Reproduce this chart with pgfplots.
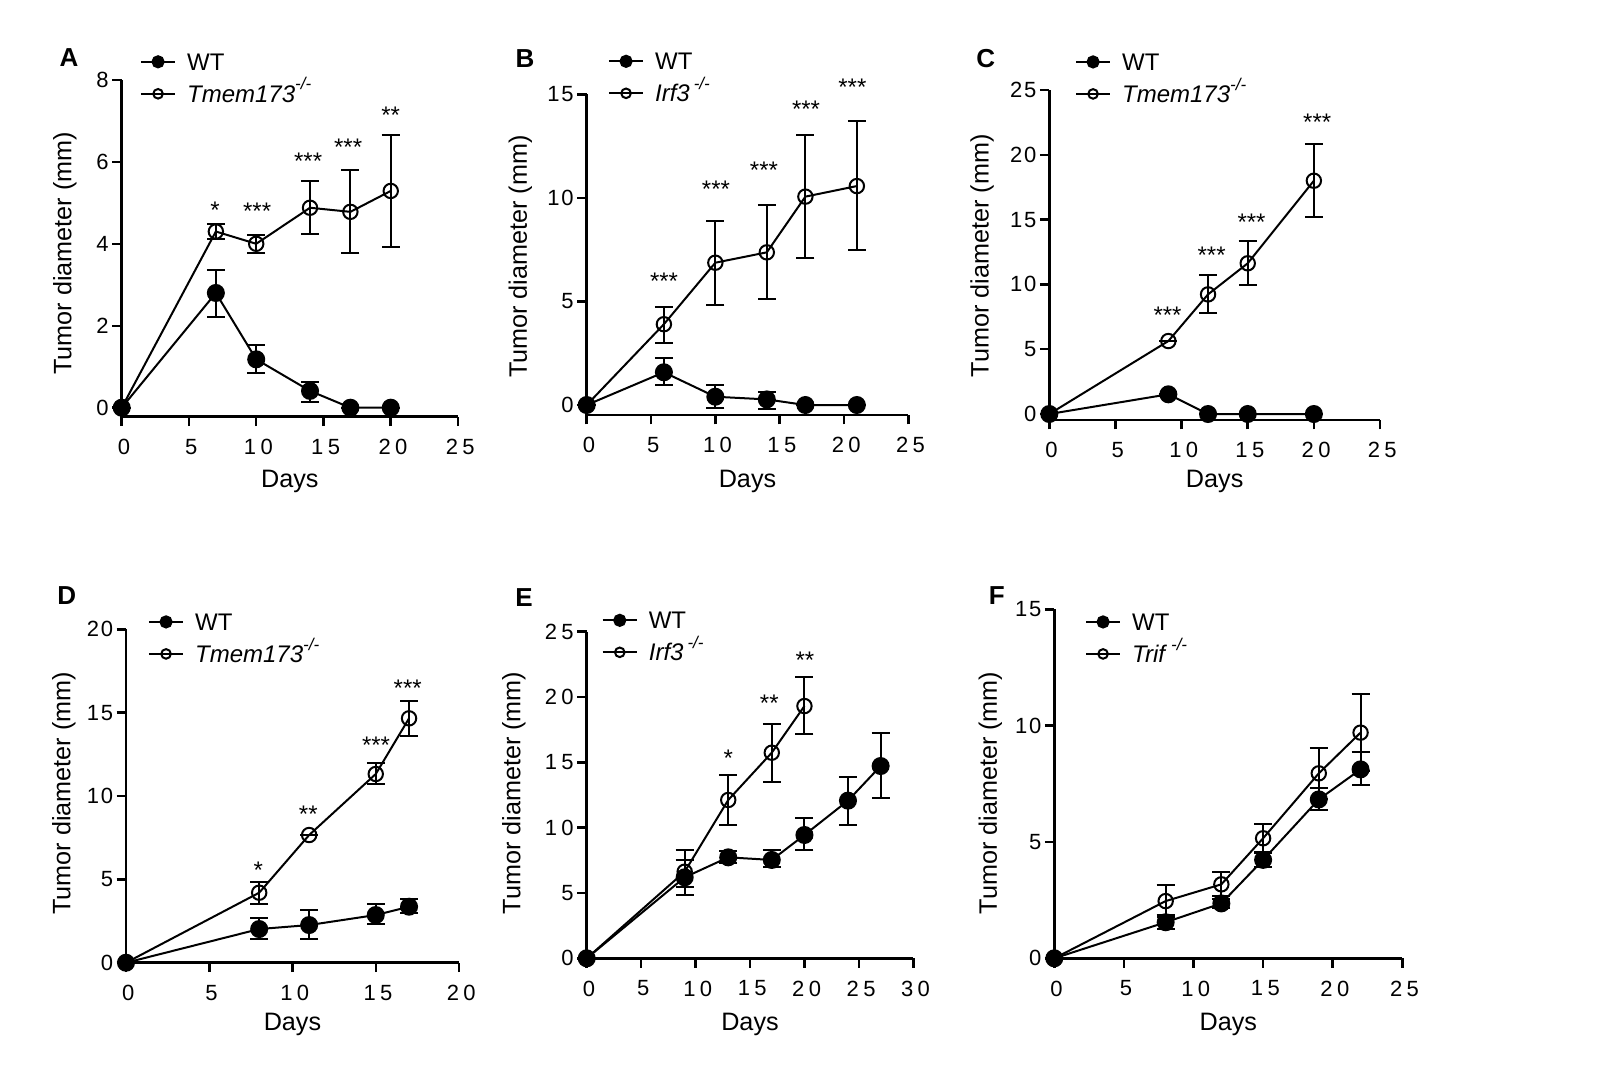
\documentclass[border=0pt]{standalone}
\usepackage{fontspec}
\setmainfont{Liberation Sans}
\newfontfamily\xtf[LetterSpace=20]{Liberation Sans}
\newfontfamily\ytf[LetterSpace=8]{Liberation Sans}
\usepackage{pgfplots}
\pgfplotsset{compat=1.18}
\newcommand{\ko}{\raisebox{0.52em}{\fontsize{8.5}{8.5}\selectfont\itshape -/-}}
\pgfplotsset{
  panel/.style={
    scale only axis, clip=false,
    axis x line=bottom, axis y line=left,
    axis line style={line width=1.25pt,-},
    tick align=outside, major tick length=4.7pt,
    every tick/.style={line width=1.25pt,black},
    /pgf/number format/assume math mode=true,
    xticklabel style={font=\fontsize{11}{13}\selectfont\xtf, inner sep=0pt, xshift=1.1pt},
    yticklabel style={font=\fontsize{11}{13}\selectfont\ytf, inner sep=0pt},
    xticklabel shift=6.3pt, yticklabel shift=1.6pt,
    xlabel={Days}, ylabel={Tumor diameter (mm)},
    label style={font=\fontsize{12.6}{14}\selectfont, inner sep=0pt},
    xmin=0,
    reverse legend, legend cell align=left,
    legend style={anchor=north west, draw=none, fill=none, inner sep=0pt, outer sep=0pt,
      row sep=7.4pt, column sep=5.5pt, font=\fontsize{12}{14}\selectfont,
      nodes={inner sep=0pt, text height=8.6pt, text depth=0pt}},
  },
  wt/.style={black, line width=1pt, mark=*, mark size=4pt, mark options={solid, fill=black},
    legend image post style={mark size=2.8pt},
    error bars/.cd, y dir=both, y explicit,
    error bar style={line width=1pt, black},
    error mark options={rotate=90, mark size=4.5pt, line width=1pt, black}},
  ko/.style={black, line width=1pt, mark=o, mark size=3.6pt, mark options={solid, fill=white},
    legend image post style={mark size=2.4pt},
    error bars/.cd, y dir=both, y explicit,
    error bar style={line width=1pt, black},
    error mark options={rotate=90, mark size=4.5pt, line width=1pt, black}},
}
\tikzset{star/.style={font=\fontsize{12}{12}\selectfont, inner sep=0pt, yshift=-2.6pt},
  plet/.style={font=\bfseries\fontsize{13}{13}\selectfont, inner sep=0pt}}
\begin{document}
\begin{tikzpicture}
\path (0pt,0pt) rectangle (800pt,-536.5pt);
% ---------- A ----------
\begin{axis}[panel, at={(60.85pt,-208.35pt)}, anchor=south west, width=168.15pt, height=168.4pt,
  xmax=25, ymin=-0.22, ymax=8, xtick={0,5,...,25}, ytick={0,2,...,8},
  xlabel style={at={(axis description cs:0.5,-0.1583)}, anchor=north},
  ylabel style={at={(axis description cs:-0.2052,0.4852)}, anchor=north},
  legend style={at={(0.0544,1.0793)}}]
\addplot[ko] coordinates {(0,0) +=(0,0) -=(0,0) (7,4.30) +=(0,0.19) -=(0,0.19) (10,4.0) +=(0,0.21) -=(0,0.23) (14,4.88) +=(0,0.65) -=(0,0.65) (17,4.78) +=(0,1.02) -=(0,1.01) (20,5.29) +=(0,1.37) -=(0,1.36)};
\addlegendentry{\textit{Tmem173}\ko}
\addplot[wt] coordinates {(0,0) +=(0,0) -=(0,0) (7,2.80) +=(0,0.55) -=(0,0.58) (10,1.18) +=(0,0.34) -=(0,0.33) (14,0.41) +=(0,0.22) -=(0,0.26) (17,0) +=(0,0) -=(0,0) (20,0) +=(0,0) -=(0,0)};
\addlegendentry{WT}
\node[star] at (axis cs:6.93,4.95) {*};
\node[star] at (axis cs:10.07,4.93) {***};
\node[star] at (axis cs:13.86,6.13) {***};
\node[star] at (axis cs:16.83,6.48) {***};
\node[star] at (axis cs:20,7.27) {**};
\end{axis}
% ---------- B ----------
\begin{axis}[panel, at={(293.35pt,-207.5pt)}, anchor=south west, width=160.8pt, height=160.35pt,
  xmax=25, ymin=-0.483, ymax=15, xtick={0,5,...,25}, ytick={0,5,10,15},
  xlabel style={at={(axis description cs:0.5,-0.1715)}, anchor=north},
  ylabel style={at={(axis description cs:-0.2438,0.4938)}, anchor=north},
  legend style={at={(0.0662,1.1297)}}]
\addplot[ko] coordinates {(0,0) +=(0,0) -=(0,0) (6,3.90) +=(0,0.85) -=(0,0.89) (10,6.87) +=(0,2.03) -=(0,2.04) (14,7.37) +=(0,2.29) -=(0,2.25) (17,10.06) +=(0,2.98) -=(0,2.98) (21,10.57) +=(0,3.14) -=(0,3.09)};
\addlegendentry{\textit{Irf3}\,\ko}
\addplot[wt] coordinates {(0,0) +=(0,0) -=(0,0) (6,1.58) +=(0,0.67) -=(0,0.61) (10,0.40) +=(0,0.57) -=(0,0.53) (14,0.27) +=(0,0.37) -=(0,0.48) (17,0) +=(0,0) -=(0,0) (21,0) +=(0,0) -=(0,0)};
\addlegendentry{WT}
\node[star] at (axis cs:6.01,6.23) {***};
\node[star] at (axis cs:10.05,10.67) {***};
\node[star] at (axis cs:13.78,11.59) {***};
\node[star] at (axis cs:17.05,14.52) {***};
\node[star] at (axis cs:20.65,15.61) {***};
\end{axis}
% ---------- C ----------
\begin{axis}[panel, at={(524.65pt,-210pt)}, anchor=south west, width=165.35pt, height=165pt,
  xmax=25, ymin=-0.463, ymax=25, xtick={0,5,...,25}, ytick={0,5,...,25},
  xlabel style={at={(axis description cs:0.5,-0.1515)}, anchor=north},
  ylabel style={at={(axis description cs:-0.2398,0.4979)}, anchor=north},
  legend style={at={(0.0777,1.1112)}}]
\addplot[ko] coordinates {(0,0) +=(0,0) -=(0,0) (9,5.63) +=(0,0) -=(0,0) (12,9.23) +=(0,1.50) -=(0,1.46) (15,11.63) +=(0,1.72) -=(0,1.68) (20,18.0) +=(0,2.81) -=(0,2.83)};
\addlegendentry{\textit{Tmem173}\ko}
\addplot[wt] coordinates {(0,0) +=(0,0) -=(0,0) (9,1.52) +=(0,0) -=(0,0) (12,0) +=(0,0) -=(0,0) (15,0) +=(0,0) -=(0,0) (20,0) +=(0,0) -=(0,0)};
\addlegendentry{WT}
\node[star] at (axis cs:8.94,8.02) {***};
\node[star] at (axis cs:12.27,12.65) {***};
\node[star] at (axis cs:15.29,15.23) {***};
\node[star] at (axis cs:20.25,22.89) {***};
\end{axis}
% ---------- D ----------
\begin{axis}[panel, at={(63pt,-481.35pt)}, anchor=south west, width=166.5pt, height=166.7pt,
  xmax=20, ymin=0, ymax=20, xtick={0,5,...,20}, ytick={0,5,...,20},
  xlabel style={at={(axis description cs:0.5,-0.15)}, anchor=north},
  ylabel style={at={(axis description cs:-0.2231,0.5081)}, anchor=north},
  legend style={at={(0.066,1.048)}}]
\addplot[ko] coordinates {(0,0) +=(0,0) -=(0,0) (8,4.2) +=(0,0.66) -=(0,0.68) (11,7.66) +=(0,0) -=(0,0) (15,11.32) +=(0,0.64) -=(0,0.62) (17,14.66) +=(0,1.04) -=(0,1.04)};
\addlegendentry{\textit{Tmem173}\ko}
\addplot[wt] coordinates {(0,0) +=(0,0) -=(0,0) (8,2.02) +=(0,0.64) -=(0,0.62) (11,2.26) +=(0,0.90) -=(0,0.86) (15,2.86) +=(0,0.64) -=(0,0.54) (17,3.36) +=(0,0.46) -=(0,0.40)};
\addlegendentry{WT}
\node[star] at (axis cs:7.95,5.86) {*};
\node[star] at (axis cs:10.95,9.2) {**};
\node[star] at (axis cs:15.02,13.36) {***};
\node[star] at (axis cs:16.92,16.8) {***};
\end{axis}
% ---------- E ----------
\begin{axis}[panel, at={(293.35pt,-479.15pt)}, anchor=south west, width=163.3pt, height=163.3pt,
  xmax=30, ymin=0, ymax=25, xtick={0,5,...,30}, ytick={0,5,...,25},
  yticklabel style={font=\fontsize{11}{13}\selectfont\xtf},
  xlabel style={at={(axis description cs:0.5,-0.1653)}, anchor=north},
  ylabel style={at={(axis description cs:-0.2603,0.5061)}, anchor=north},
  legend style={at={(0.0459,1.0612)}}]
\addplot[ko] coordinates {(0,0) +=(0,0) -=(0,0) (9,6.63) +=(0,1.66) -=(0,1.2) (13,12.12) +=(0,1.91) -=(0,1.92) (17,15.74) +=(0,2.19) -=(0,2.22) (20,19.31) +=(0,2.19) -=(0,2.17)};
\addlegendentry{\textit{Irf3}\,\ko}
\addplot[wt] coordinates {(0,0) +=(0,0) -=(0,0) (9,6.2) +=(0,1.35) -=(0,1.35) (13,7.73) +=(0,0.45) -=(0,0.45) (17,7.53) +=(0,0.76) -=(0,0.51) (20,9.44) +=(0,1.27) -=(0,1.15) (24,12.07) +=(0,1.83) -=(0,1.87) (27,14.72) +=(0,2.5) -=(0,2.42)};
\addlegendentry{WT}
\node[star] at (axis cs:13.0,15.74) {*};
\node[star] at (axis cs:16.77,19.95) {**};
\node[star] at (axis cs:20.05,23.21) {**};
\end{axis}
% ---------- F ----------
\begin{axis}[panel, at={(527.15pt,-479.15pt)}, anchor=south west, width=174pt, height=174.5pt,
  xmax=25, ymin=0, ymax=15, xtick={0,5,...,25}, ytick={0,5,10,15},
  xlabel style={at={(axis description cs:0.5,-0.1547)}, anchor=north},
  ylabel style={at={(axis description cs:-0.2184,0.4736)}, anchor=north},
  legend style={at={(0.0882,0.9885)}}]
\addplot[ko] coordinates {(0,0) +=(0,0) -=(0,0) (8,2.46) +=(0,0.69) -=(0,0.69) (12,3.18) +=(0,0.52) -=(0,0.52) (15,5.16) +=(0,0.61) -=(0,0.61) (19,7.95) +=(0,1.1) -=(0,1.1) (22,9.7) +=(0,1.66) -=(0,1.66)};
\addlegendentry{\textit{Trif}\,\ko}
\addplot[wt] coordinates {(0,0) +=(0,0) -=(0,0) (8,1.55) +=(0,0.3) -=(0,0.3) (12,2.36) +=(0,0.2) -=(0,0.2) (15,4.23) +=(0,0.28) -=(0,0.29) (19,6.83) +=(0,0.47) -=(0,0.45) (22,8.12) +=(0,0.73) -=(0,0.67)};
\addlegendentry{WT}
\end{axis}
% panel letters
\node[plet] at (34.5pt,-28.65pt) {A};
\node[plet] at (262.5pt,-29.5pt) {B};
\node[plet] at (492.85pt,-29.5pt) {C};
\node[plet] at (33.35pt,-298pt) {D};
\node[plet] at (262pt,-298.65pt) {E};
\node[plet] at (498.35pt,-298pt) {F};
\end{tikzpicture}
\end{document}
